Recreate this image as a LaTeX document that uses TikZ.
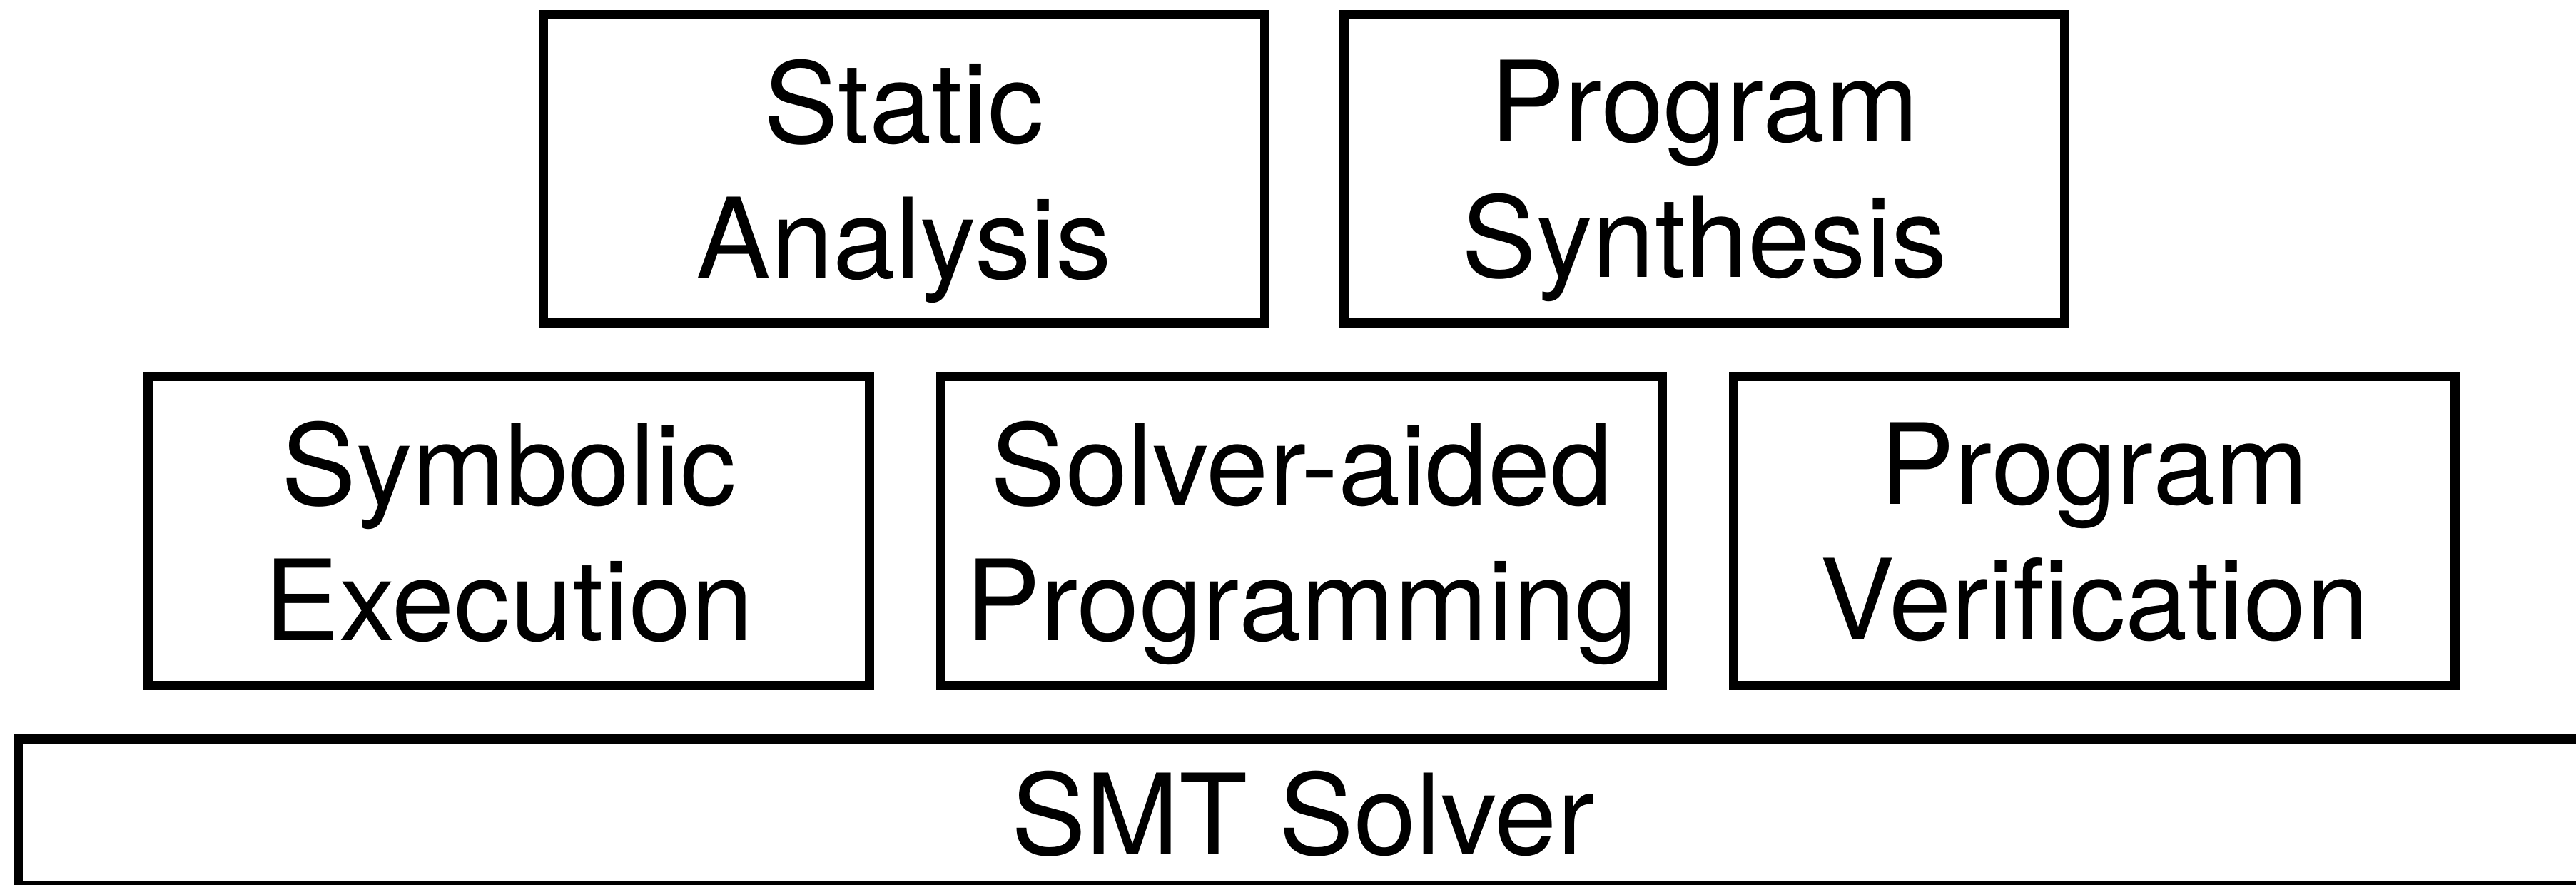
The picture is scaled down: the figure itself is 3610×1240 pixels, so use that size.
\documentclass[tikz,border=0pt]{standalone}
\usepackage{fontspec}
\setmainfont{TeX Gyre Heros}
\newcommand{\twoline}[2]{\vbox{\halign{\hfil##\hfil\cr#1\cr#2\cr}}}
\begin{document}
\begin{tikzpicture}[x=0.01cm,y=-0.01cm,
  layerbox/.style={draw=black, line width=0.13cm, fill=none, inner sep=0pt,
    minimum width=10.10cm, minimum height=4.32cm,
    font=\fontsize{44.67pt}{54.06pt}\selectfont, text depth=0pt},
  basebox/.style={layerbox, minimum width=35.985cm, minimum height=2.055cm}]
\useasboundingbox (0,0) rectangle (3610,1240);
\clip (0,0) rectangle (3610,1240);
\node[layerbox] (static) at (1267,236.5) {\twoline{Static}{Analysis}};
\node[layerbox] (synth) at (2388.5,236.5) {\twoline{Program}{Synthesis}};
\node[layerbox] (symex) at (713,744) {\twoline{Symbolic}{Execution}};
\node[layerbox] (sap) at (1824,744) {\twoline{Solver-aided}{Programming}};
\node[layerbox] (verif) at (2935,744) {\twoline{Program}{Verification}};
\node[basebox] (smt) at (1825.75,1138.75) {SMT Solver};
\end{tikzpicture}
\end{document}
